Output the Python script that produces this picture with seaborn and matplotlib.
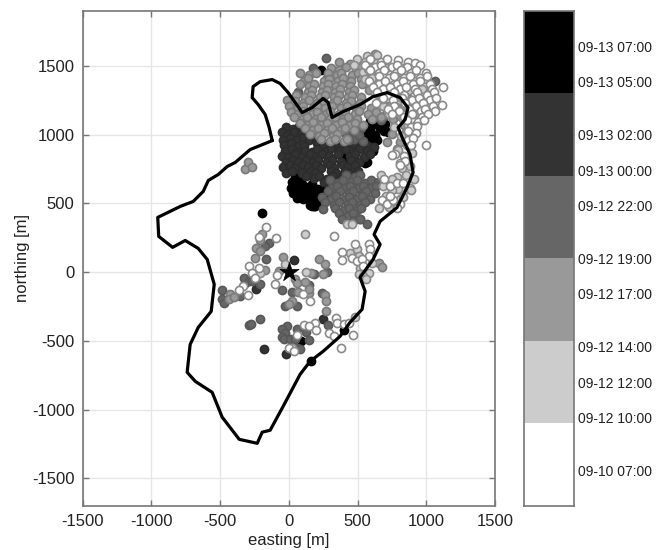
import numpy as np
import matplotlib
matplotlib.use('Agg')
import matplotlib.pyplot as plt
from matplotlib.colors import ListedColormap
import seaborn as sns

# Glacier outline, metres
outline_x = [-121, -209, -281, -390, -449, -514, -586, -623, -696, -790, -954, -947, -846, -754, -659, -594, -543, -565, -659,
             -718, -740, -681, -558, -485, -361, -230, -194, -136, -41, 82, 155, 249, 373, 445, 533, 555, 518, 613, 664, 620,
             664, 787, 860, 904, 882, 831, 795, 846, 867, 809, 715, 613, 518, 395, 315, 286, 249, 169, 97, 46, -5, -63, -121,
             -209, -260, -267, -223, -172, -143, -121]
outline_y = [957, 921, 892, 798, 768, 710, 667, 587, 514, 478, 398, 260, 180, 230, 172, 92, -89, -286, -402,
             -526, -729, -795, -875, -1056, -1217, -1246, -1165, -1151, -976, -744, -649, -577, -467, -366, -271, -140, -39, 92, 201, 274,
             369, 470, 616, 725, 856, 965, 1052, 1110, 1197, 1270, 1306, 1277, 1219, 1168, 1125, 1234, 1263, 1197, 1161, 1234, 1306, 1372, 1401,
             1386, 1350, 1270, 1219, 1146, 1052, 957]

# Events per time class, (easting, northing)
pts_black = [(20, 652), (55, 661), (96, 641), (18, 611), (57, 617), (94, 601), (136, 622), (171, 642), (211, 603), (252, 588),
             (31, 572), (70, 577), (112, 563), (151, 582), (190, 566), (231, 547), (268, 561), (61, 541), (101, 531), (150, 536),
             (191, 528), (155, 490), (190, 481), (215, 496), (241, 520), (135, 580), (90, 680), (45, 690), (560, 1010), (591, 1041),
             (619, 1075), (640, 1100), (661, 1051), (690, 1030), (625, 1001), (590, 985), (720, 1021), (700, 1080), (610, 960),
             (571, 950), (641, 961), (555, 795), (571, 802), (400, 860), (421, 830), (449, 845), (615, 880), (590, 1100), (232, 1474),
             (-196, 431), (90, -502), (398, -424), (160, -647), (167, 480), (185, 478)]
pts_dark = [(-24, 1058), (28, 1041), (74, 1060), (-48, 1018), (-12, 1001), (37, 1019), (92, 1003), (133, 1024), (-41, 962), (6, 978),
            (57, 958), (101, 981), (147, 960), (188, 984), (-33, 924), (14, 938), (66, 921), (111, 917), (206, 941), (246, 922),
            (334, 938), (386, 919), (437, 941), (482, 928), (531, 944), (573, 918), (622, 912), (-26, 882), (22, 899), (58, 876),
            (118, 884), (166, 874), (204, 899), (268, 880), (306, 901), (364, 878), (417, 898), (466, 877), (514, 899), (567, 878),
            (-52, 846), (-3, 839), (44, 858), (93, 841), (157, 858), (199, 838), (241, 860), (294, 842), (356, 861), (446, 842),
            (484, 859), (547, 841), (592, 858), (-19, 803), (31, 816), (63, 799), (127, 817), (176, 802), (213, 819), (278, 803),
            (313, 819), (378, 802), (453, 818), (511, 803), (-46, 764), (12, 778), (43, 759), (101, 779), (139, 762), (197, 778),
            (234, 758), (296, 781), (329, 761), (391, 777), (424, 763), (479, 776), (-24, 724), (22, 736), (98, 721), (158, 738),
            (193, 722), (307, 737), (342, 721), (408, 738), (444, 722), (503, 734), (124, 698), (183, 682), (223, 699), (277, 681),
            (324, 699), (386, 682), (254, 658), (308, 641), (344, 661), (34, 85), (-237, -126), (-317, -78), (248, -339), (-19, -594),
            (-184, -562)]
pts_mid = [(414, 708), (478, 691), (516, 709), (296, 668), (356, 651), (394, 671), (458, 652), (493, 668), (557, 651), (596, 669),
           (652, 652), (317, 614), (347, 627), (412, 612), (443, 629), (507, 613), (538, 628), (597, 611), (633, 627), (284, 588),
           (343, 571), (373, 591), (437, 572), (468, 589), (532, 571), (563, 591), (627, 572), (243, 548), (307, 531), (342, 551),
           (408, 531), (438, 549), (497, 531), (533, 551), (592, 532), (264, 508), (326, 491), (364, 511), (428, 492), (458, 509),
           (518, 491), (554, 509), (334, 468), (401, 451), (439, 469), (496, 452), (527, 468), (364, 428), (431, 411), (469, 429),
           (384, 388), (468, 371), (521, 383), (567, 347), (519, 383), (252, 456), (271, 1559), (179, 1486), (70, 1309), (276, 1413),
           (414, 1008), (476, 1018), (527, 1047), (474, 967), (538, 953), (634, 1148), (608, 1122), (694, 1138), (1064, 1388),
           (441, 962), (508, 1001), (667, 1108), (-148, 213), (-172, 189), (-165, 97), (-329, -46), (-293, -65), (-213, -85),
           (-359, -175), (-487, -133), (-487, -199), (-475, -223), (-269, -65), (-51, -133), (150, -97), (185, -17), (276, 0), (22, -145),
           (240, -150), (58, -247), (-26, -247), (-208, -344), (-293, -388), (-276, -381), (-14, -393), (-51, -417), (-26, -441), (-51, -473),
           (-34, -490), (10, -490), (58, -412), (126, -434), (284, -388), (150, -497), (46, -490), (58, -555), (82, -562)]
pts_gray = [(364, 1528), (446, 1511), (514, 1531), (574, 1512), (627, 1587), (304, 1488), (367, 1471), (414, 1489), (488, 1473), (522, 1492),
            (598, 1471), (84, 1448), (146, 1431), (194, 1451), (284, 1446), (348, 1432), (382, 1451), (458, 1434), (502, 1448), (568, 1433),
            (603, 1449), (108, 1394), (142, 1411), (258, 1393), (292, 1408), (358, 1391), (394, 1409), (452, 1391), (528, 1407), (572, 1392),
            (82, 1368), (148, 1351), (184, 1371), (246, 1352), (284, 1369), (346, 1351), (384, 1369), (448, 1352), (534, 1369), (138, 1314),
            (172, 1327), (238, 1313), (274, 1328), (336, 1312), (374, 1329), (438, 1312), (472, 1328), (584, 1328), (-15, 1255), (54, 1288),
            (116, 1271), (164, 1291), (226, 1271), (264, 1288), (326, 1272), (364, 1291), (428, 1271), (462, 1288), (526, 1271), (44, 1248),
            (106, 1231), (144, 1249), (208, 1232), (252, 1248), (318, 1231), (352, 1249), (416, 1232), (454, 1248), (518, 1231), (656, 1248),
            (4, 1208), (68, 1191), (102, 1209), (178, 1192), (204, 1208), (266, 1191), (314, 1209), (376, 1192), (424, 1208), (486, 1191),
            (524, 1209), (596, 1192), (708, 1208), (14, 1168), (66, 1151), (104, 1169), (166, 1152), (204, 1168), (268, 1151), (302, 1169),
            (368, 1152), (412, 1168), (478, 1151), (514, 1169), (576, 1152), (634, 1168), (706, 1151), (34, 1128), (106, 1111), (134, 1129),
            (196, 1112), (234, 1128), (296, 1111), (334, 1129), (396, 1112), (434, 1128), (496, 1111), (608, 1115), (672, 1126), (758, 1114),
            (84, 1088), (136, 1071), (174, 1089), (236, 1072), (274, 1088), (346, 1071), (384, 1089), (446, 1072), (482, 1088), (538, 1071),
            (114, 1048), (176, 1031), (214, 1049), (278, 1032), (312, 1048), (378, 1031), (412, 1049), (476, 1032), (154, 1008), (216, 991),
            (254, 1009), (318, 992), (352, 1008), (234, 968), (296, 951), (334, 969), (398, 952), (422, 968), (808, 1138), (836, 1072),
            (754, 1008), (806, 944), (856, 1018), (714, 948), (786, 894), (662, 1284), (742, 1214), (812, 1188), (702, 1302), (646, 1402),
            (796, 1322), (872, 1262), (936, 1212), (1002, 1318), (-318, 747), (-294, 800), (-270, 766),
            (-196, 279), (-208, 230), (-237, 177), (-208, 153), (-245, 104), (-172, 12), (-431, -163), (-438, -199), (-402, -182),
            (-39, 111), (-75, 7), (46, -53), (58, -78), (114, -73), (160, -10), (216, 92), (260, 56), (252, -17), (63, -143),
            (143, -150), (143, -126), (260, -167), (269, -211), (22, -211), (-2, -230), (657, 68), (677, 36), (269, -284)]
pts_light = [(567, 1570), (640, 1583), (494, 1548), (552, 1531), (474, 1506), (538, 1454), (608, 1414), (554, 1406), (628, 1304), (694, 1358),
             (766, 1434), (822, 1488), (918, 1392), (966, 1334), (874, 1328), (806, 1254), (682, 1206), (968, 1184), (892, 1186), (828, 1114),
             (864, 1068), (908, 1012), (814, 988), (858, 924), (792, 888), (846, 824), (894, 868), (878, 774), (822, 758), (788, 694),
             (854, 706), (908, 674), (674, 708), (748, 674), (838, 594), (792, 606), (878, 614), (754, 598), (706, 554), (684, 628),
             (728, 474), (654, 466), (808, 534), (834, 546), (888, 594), (574, 1478), (632, 1522), (704, 1484), (744, 1386), (678, 1262),
             (726, 1154), (806, 1398), (858, 1448), (984, 1408), (1038, 1262), (912, 1148), (1002, 1214), (762, 1054), (926, 1068), (-208, -5),
             (-26, 60), (126, 0), (119, 274), (446, 140), (494, 165), (507, 116), (604, 68), (519, 31), (580, -5), (507, -12),
             (543, -29), (562, -53), (422, 347), (458, 347), (483, -327)]
pts_white = [(594, 1548), (668, 1531), (714, 1549), (797, 1546), (868, 1532), (918, 1522), (554, 1508), (628, 1491), (674, 1509), (748, 1492),
             (784, 1508), (858, 1491), (955, 1510), (592, 1468), (658, 1451), (694, 1469), (778, 1452), (814, 1468), (886, 1451), (924, 1469),
             (996, 1452), (654, 1428), (726, 1411), (764, 1429), (836, 1412), (884, 1428), (956, 1411), (1004, 1429), (584, 1388), (658, 1371),
             (702, 1389), (788, 1372), (834, 1388), (906, 1371), (954, 1389), (1026, 1372), (612, 1348), (688, 1331), (734, 1349), (806, 1332),
             (854, 1348), (916, 1331), (1038, 1335), (1120, 1345), (644, 1308), (726, 1291), (764, 1309), (836, 1292), (934, 1308),
             (1006, 1291), (1054, 1309), (684, 1268), (758, 1251), (824, 1269), (896, 1252), (944, 1268), (1026, 1251), (1074, 1269), (634, 1228),
             (768, 1211), (844, 1229), (926, 1212), (974, 1228), (1048, 1211), (1112, 1219), (722, 1188), (798, 1171), (872, 1189), (958, 1172),
             (994, 1188), (1066, 1171), (754, 1148), (836, 1131), (894, 1149), (966, 1132), (1014, 1148), (862, 1108), (938, 1091), (984, 1109),
             (888, 1054), (932, 1065), (864, 1028), (926, 1011), (868, 964), (902, 976), (888, 924), (996, 928), (774, 858), (838, 842),
             (754, 851), (808, 794), (844, 806), (809, 776), (695, 679), (737, 625), (785, 650), (833, 650), (676, 528), (712, 492),
             (761, 528), (809, 492), (737, 555), (785, 468), (-167, 330), (-92, 250), (-220, 257), (-293, 44), (-220, 31), (-269, -10),
             (-245, -46), (-334, -102), (-366, -133), (-298, -167), (-87, -24), (-99, -85), (102, -158), (155, -211), (332, 262), (483, 208),
             (580, 208), (592, 170), (386, 145), (386, 87), (458, 104), (580, 116), (495, 80), (531, 92), (543, 44), (342, -332),
             (112, -386), (187, -369), (150, -395), (197, -424), (349, -369), (398, -376), (435, -369), (289, -441), (330, -466), (466, -461),
             (381, -550), (58, -458), (22, -550), (-2, -550), (34, -575)]

# Colour classes, drawn from latest to earliest
class_points = [pts_black, pts_dark, pts_mid, pts_gray, pts_light, pts_white]
class_fill = ['#000000', '#333333', '#666666', '#999999', '#cccccc', '#ffffff']
class_edge = ['#000000', '#2c2c2c', '#585858', '#7a7a7a', '#8a8a8a', '#8a8a8a']

# Colour bar: hours after 09-12 00:00, running top to bottom
bar_top = 33
bar_bottom = 5
bar_hours = [31, 29, 26, 24, 22, 19, 17, 14, 12, 10, 7]
bar_labels = ['09-13 07:00', '09-13 05:00', '09-13 02:00', '09-13 00:00', '09-12 22:00', '09-12 19:00',
              '09-12 17:00', '09-12 14:00', '09-12 12:00', '09-12 10:00', '09-10 07:00']

sns.set_style('white')
plt.rcParams['font.family'] = ['Liberation Sans', 'DejaVu Sans']
plt.rcParams['text.color'] = '#222222'
plt.rcParams['axes.unicode_minus'] = False

fig = plt.figure(figsize=(6.65, 5.5), dpi=100)
ax = fig.add_axes([82.7 / 665, 1 - 505.7 / 550, 412.3 / 665, 494.7 / 550])
cax = fig.add_axes([524 / 665, 1 - 505.7 / 550, 50 / 665, 494.7 / 550])

for pts, fill, edge in zip(class_points, class_fill, class_edge):
    arr = np.array(pts)
    sns.scatterplot(x=arr[:, 0], y=arr[:, 1], color=fill, edgecolor=edge, s=34, linewidth=1.2, ax=ax, zorder=3, legend=False)

sns.lineplot(x=outline_x, y=outline_y, sort=False, estimator=None, color='black', linewidth=2.3, ax=ax, zorder=4)
sns.scatterplot(x=[0], y=[0], marker='*', color='black', edgecolor='black', s=210, linewidth=0.5, ax=ax, zorder=5, legend=False)

ax.set_xlim(-1500, 1500)
ax.set_ylim(-1700, 1900)
ax.set_xticks(range(-1500, 1501, 500))
ax.set_yticks(range(-1500, 1501, 500))
ax.grid(True, color='#e6e6e6', linewidth=1.0)
ax.set_axisbelow(True)
ax.tick_params(direction='in', length=4, width=1, color='#777777', labelcolor='#222222', labelsize=12, top=True, right=True, left=True, bottom=True, pad=6)
ax.set_xlabel('easting [m]', fontsize=12, color='#222222', labelpad=3)
ax.set_ylabel('northing [m]', fontsize=12, color='#222222', labelpad=1)
for spine in ax.spines.values():
    spine.set_visible(True)
    spine.set_color('#777777')
    spine.set_linewidth(1.2)

# One heatmap row per colour class
sns.heatmap(np.arange(len(class_fill)).reshape(-1, 1), cmap=ListedColormap(class_fill), cbar=False, ax=cax, xticklabels=False, yticklabels=False)
cax.set_yticks([(bar_top - h) / (bar_top - bar_bottom) * len(class_fill) for h in bar_hours])
cax.set_yticklabels(bar_labels, rotation=0)
cax.tick_params(axis='y', direction='in', length=4, width=1, color='#555555', left=True, right=True, labelleft=False, labelright=True, labelsize=10, labelcolor='#222222', pad=3)
cax.tick_params(axis='x', length=0)
for spine in cax.spines.values():
    spine.set_visible(True)
    spine.set_color('#777777')
    spine.set_linewidth(1.2)

plt.savefig('out.png', dpi=100)
